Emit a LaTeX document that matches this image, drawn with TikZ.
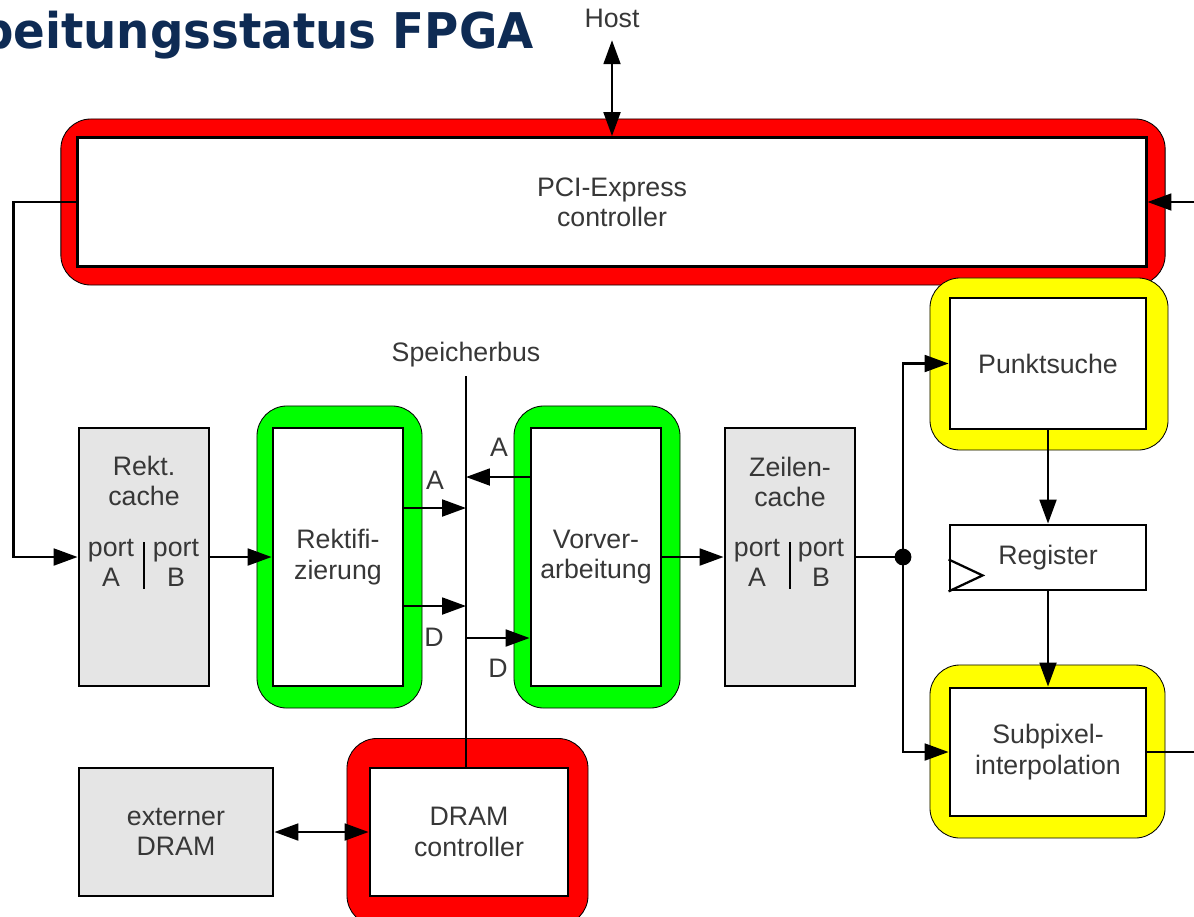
\documentclass[tikz,border=0pt]{standalone}
\usepackage{fontspec}
\setmainfont{Liberation Sans}
\newfontfamily\titlefont[FakeStretch=0.95]{DejaVu Sans}
\usepackage{xcolor}
\usetikzlibrary{arrows.meta, positioning, calc}
\definecolor{fpgaRed}{RGB}{255, 0, 0}
\definecolor{fpgaGreen}{RGB}{0, 255, 0}
\definecolor{fpgaYellow}{RGB}{255, 255, 0}
\definecolor{fpgaGray}{RGB}{229, 229, 229}
\definecolor{fpgaTitle}{RGB}{14, 43, 84}
\definecolor{fpgaText}{RGB}{55, 55, 55}

\begin{document}
\begin{tikzpicture}[x=0.025cm, y=-0.025cm, >={Triangle[length=17pt, width=12pt]}]
    \tikzstyle{block} = [rectangle, draw=black, line width=2pt, fill=white, align=center, font=\fontsize{19}{21.5}\selectfont, text=fpgaText, inner sep=0pt]
    \tikzstyle{cache} = [block, fill=fpgaGray, minimum width=3.25cm, minimum height=6.45cm]
    \tikzstyle{halo} = [rectangle, rounded corners=0.75cm, draw=black, line width=0.6pt, inner sep=0pt]
    \tikzstyle{wire} = [line width=1.6pt]
    \tikzstyle{lbl} = [font=\fontsize{19}{21.5}\selectfont, text=fpgaText, align=center, inner sep=0pt]
    \tikzstyle{junction} = [circle, fill=black, inner sep=0pt, minimum size=0.42cm]

    \useasboundingbox (0,0) rectangle (1194,916);

    % title and host
    \node[anchor=base east, font=\titlefont\bfseries\fontsize{35}{40}\selectfont, text=fpgaTitle, inner sep=0pt] (title) at (534,48) {beitungsstatus FPGA};
    \node[lbl] (host) at (612,18) {Host};

    % coloured frames
    \node[halo, fill=fpgaRed, minimum width=27.6cm, minimum height=4.15cm] (pcihalo) at (613,202) {};
    \node[halo, fill=fpgaGreen, minimum width=4.125cm, minimum height=7.55cm] (rekthalo) at (339.5,557) {};
    \node[halo, fill=fpgaGreen, minimum width=4.15cm, minimum height=7.55cm] (vorvhalo) at (597,557) {};
    \node[halo, fill=fpgaYellow, minimum width=5.95cm, minimum height=4.3cm] (punkthalo) at (1049,364) {};
    \node[halo, fill=fpgaYellow, minimum width=5.875cm, minimum height=4.325cm] (subpixhalo) at (1047.5,751.5) {};
    \node[halo, fill=fpgaRed, minimum width=6.025cm, minimum height=4.675cm] (dramhalo) at (467.5,832) {};

    % blocks
    \node[block, minimum width=26.7cm, minimum height=3.225cm] (pci) at (612,202) {PCI-Express\\controller};
    \node[cache] (rektcache) at (144,557) {};
    \node[block, minimum width=3.25cm, minimum height=6.45cm] (rekt) at (338,557) {Rektifi-\\zierung};
    \node[block, minimum width=3.25cm, minimum height=6.45cm] (vorv) at (596,557) {Vorver-\\arbeitung};
    \node[cache] (zcache) at (790,557) {};
    \node[block, minimum width=4.9cm, minimum height=3.275cm] (punkt) at (1048,363.5) {Punktsuche};
    \node[block, minimum width=4.9cm, minimum height=1.625cm] (reg) at (1048,557.5) {Register};
    \node[block, minimum width=4.9cm, minimum height=3.2cm] (subpix) at (1048,752) {Subpixel-\\interpolation};
    \node[block, fill=fpgaGray, minimum width=4.85cm, minimum height=3.2cm] (extdram) at (176,832) {externer\\DRAM};
    \node[block, minimum width=4.95cm, minimum height=3.2cm] (dramctl) at (469,832) {DRAM\\controller};

    % cache texts
    \node[lbl] (rcname) at (144,481) {Rekt.\\cache};
    \node[lbl] (rcportA) at (111,563) {port\\A};
    \node[lbl] (rcportB) at (176,563) {port\\B};
    \draw[wire] (144,542) -- (144,589);
    \node[lbl] (zcname) at (790,482) {Zeilen-\\cache};
    \node[lbl] (zcportA) at (757,563) {port\\A};
    \node[lbl] (zcportB) at (821,563) {port\\B};
    \draw[wire] (790,542) -- (790,589);

    % register clock input
    \draw[line width=1.6pt] (reg.south west) ++(0,-32) -- ++(34,16) -- (reg.south west);

    % memory bus
    \coordinate (bustop) at (466,376);
    \coordinate (busRA) at (466,508);
    \coordinate (busRD) at (466,606);
    \coordinate (busVA) at (466,477);
    \coordinate (busVD) at (466,638);
    \node[lbl] (buslbl) at (466,355) {Speicherbus};
    \draw[wire] (bustop) -- (bustop |- dramctl.north);

    % connections
    \draw[wire, <->, shorten <=9pt] (host.south) -- (pci.north);
    \draw[wire, ->] (pci.west) -- ++(-63,0) |- (rektcache.west);
    \coordinate (pciin) at (1194,202);
    \draw[wire, ->] (pciin) -- (pci.east);
    \draw[wire, ->] (rektcache.east) -- (rekt.west);
    \draw[wire, ->] (rekt.east |- busRA) -- (busRA);
    \draw[wire, ->] (rekt.east |- busRD) -- (busRD);
    \draw[wire, ->] (vorv.west |- busVA) -- (busVA);
    \draw[wire, ->] (busVD) -- (vorv.west |- busVD);
    \node[lbl] (lblRA) at (435,480) {A};
    \node[lbl] (lblRD) at (434,637) {D};
    \node[lbl] (lblVA) at (499,447) {A};
    \node[lbl] (lblVD) at (498,668) {D};
    \draw[wire, ->] (vorv.east) -- (zcache.west);

    \node[junction] (junc) at (903,557) {};
    \draw[wire] (zcache.east) -- (junc.center);
    \draw[wire, ->] (junc.center) |- (punkt.west);
    \draw[wire, ->] (junc.center) |- (subpix.west);
    \draw[wire, ->] (punkt.south) -- (reg.north);
    \draw[wire, ->] (reg.south) -- (subpix.north);
    \coordinate (subout) at (1194,752);
    \draw[wire] (subpix.east) -- (subout);

    \draw[wire, <->] (extdram.east) -- (dramctl.west);
\end{tikzpicture}
\end{document}
